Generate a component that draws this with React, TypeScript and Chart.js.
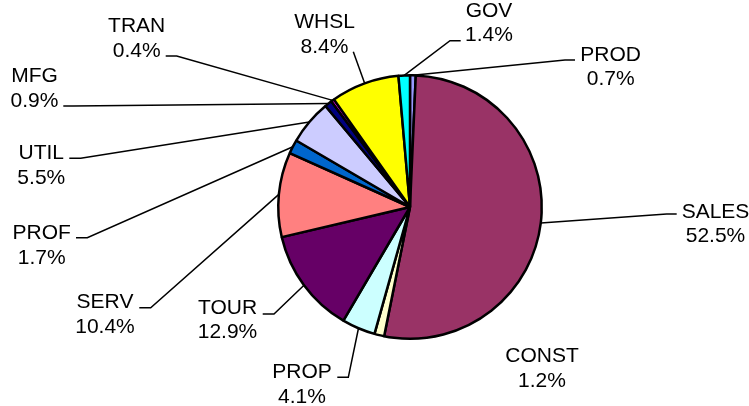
import { useEffect, useRef } from "react";
import { Chart, registerables } from "chart.js";

Chart.register(...registerables);

// ---- data (clockwise from 12 o'clock) ----
const CATEGORIES = ["PROD", "SALES", "CONST", "PROP", "TOUR", "SERV", "PROF", "UTIL", "MFG", "TRAN", "WHSL", "GOV"];
const SHARES = [0.7, 52.5, 1.2, 4.1, 12.9, 10.4, 1.7, 5.5, 0.9, 0.4, 8.4, 1.4];
const PERCENT_LABELS = SHARES.map((v) => v.toFixed(1) + "%");
const COLORS = [
  "#9999FF", "#993366", "#FFFFCC", "#CCFFFF", "#660066", "#FF8080",
  "#0066CC", "#CCCCFF", "#000080", "#FF00FF", "#FFFF00", "#00FFFF",
];

// ---- label layout: offsets (px) relative to the pie centre ----
// text: [centre x, first baseline]; leader: points after the slice edge point
type Layout = { text: [number, number]; leader?: [number, number][] };
const LABEL_LAYOUT: Layout[] = [
  { text: [200.7, -146.3], leader: [[155, -147], [165, -147]] }, // PROD
  { text: [305.5, 10.5], leader: [[256.7, 7], [266.7, 7]] }, // SALES
  { text: [132, 155.3] }, // CONST
  { text: [-108, 171.3], leader: [[-61.7, 170.3], [-72.7, 170.3]] }, // PROP
  { text: [-182.5, 107], leader: [[-136, 107], [-147.3, 107]] }, // TOUR
  { text: [-305, 101.3], leader: [[-259.3, 100.7], [-270.7, 100.7]] }, // SERV
  { text: [-368.3, 32.3], leader: [[-322.7, 30.7], [-334, 30.7]] }, // PROF
  { text: [-368.7, -47.7], leader: [[-329.3, -48.7], [-340.7, -48.7]] }, // UTIL
  { text: [-375.5, -124.7], leader: [[-337, -101], [-346.7, -101]] }, // MFG
  { text: [-273.3, -174.7], leader: [[-233.3, -151], [-244.3, -151]] }, // TRAN
  { text: [-85.5, -178.7], leader: [[-56.7, -155.3]] }, // WHSL
  { text: [79, -190.3], leader: [[40, -166.3], [50.7, -166.3]] }, // GOV
];
const LINE_GAP = 24.3;
const FONT = "21px 'Liberation Sans', Arial, sans-serif";

const labelPlugin = {
  id: "pieLabels",
  afterDatasetsDraw(chart: any) {
    const ctx = chart.ctx as CanvasRenderingContext2D;
    const meta = chart.getDatasetMeta(0);
    ctx.save();
    ctx.strokeStyle = "#000";
    ctx.lineWidth = 1.5;
    ctx.fillStyle = "#000";
    ctx.font = FONT;
    ctx.textAlign = "center";
    ctx.textBaseline = "alphabetic";
    meta.data.forEach((arc: any, i: number) => {
      const { x, y, startAngle, endAngle, outerRadius } = arc.getProps(
        ["x", "y", "startAngle", "endAngle", "outerRadius"],
        true
      );
      const mid = (startAngle + endAngle) / 2;
      const px = x + Math.cos(mid) * outerRadius;
      const py = y + Math.sin(mid) * outerRadius;
      const L = LABEL_LAYOUT[i];
      if (L.leader) {
        ctx.beginPath();
        ctx.moveTo(px, py);
        L.leader.forEach(([dx, dy]) => ctx.lineTo(x + dx, y + dy));
        ctx.stroke();
      }
      ctx.fillText(CATEGORIES[i], x + L.text[0], y + L.text[1]);
      ctx.fillText(PERCENT_LABELS[i], x + L.text[0], y + L.text[1] + LINE_GAP);
    });
    ctx.restore();
  },
};

export default function App() {
  const ref = useRef<HTMLCanvasElement | null>(null);
  useEffect(() => {
    document.body.style.margin = "0";
    const canvas = ref.current!;
    const chart = new Chart(canvas, {
      type: "pie",
      data: {
        labels: CATEGORIES,
        datasets: [
          {
            data: SHARES,
            backgroundColor: COLORS,
            borderColor: "#000",
            borderWidth: 2.5,
            hoverBorderWidth: 2.5,
            hoverOffset: 0,
          },
        ],
      },
      options: {
        responsive: false,
        animation: false,
        events: [],
        layout: { padding: { left: 277, right: 206, top: 74, bottom: 66 } },
        plugins: { legend: { display: false }, tooltip: { enabled: false } },
      },
      plugins: [labelPlugin],
    });
    return () => chart.destroy();
  }, []);
  return (
    <div style={{ width: 749, height: 406, background: "#fff" }}>
      <canvas ref={ref} width={749} height={406} style={{ display: "block", width: 749, height: 406 }} />
    </div>
  );
}
